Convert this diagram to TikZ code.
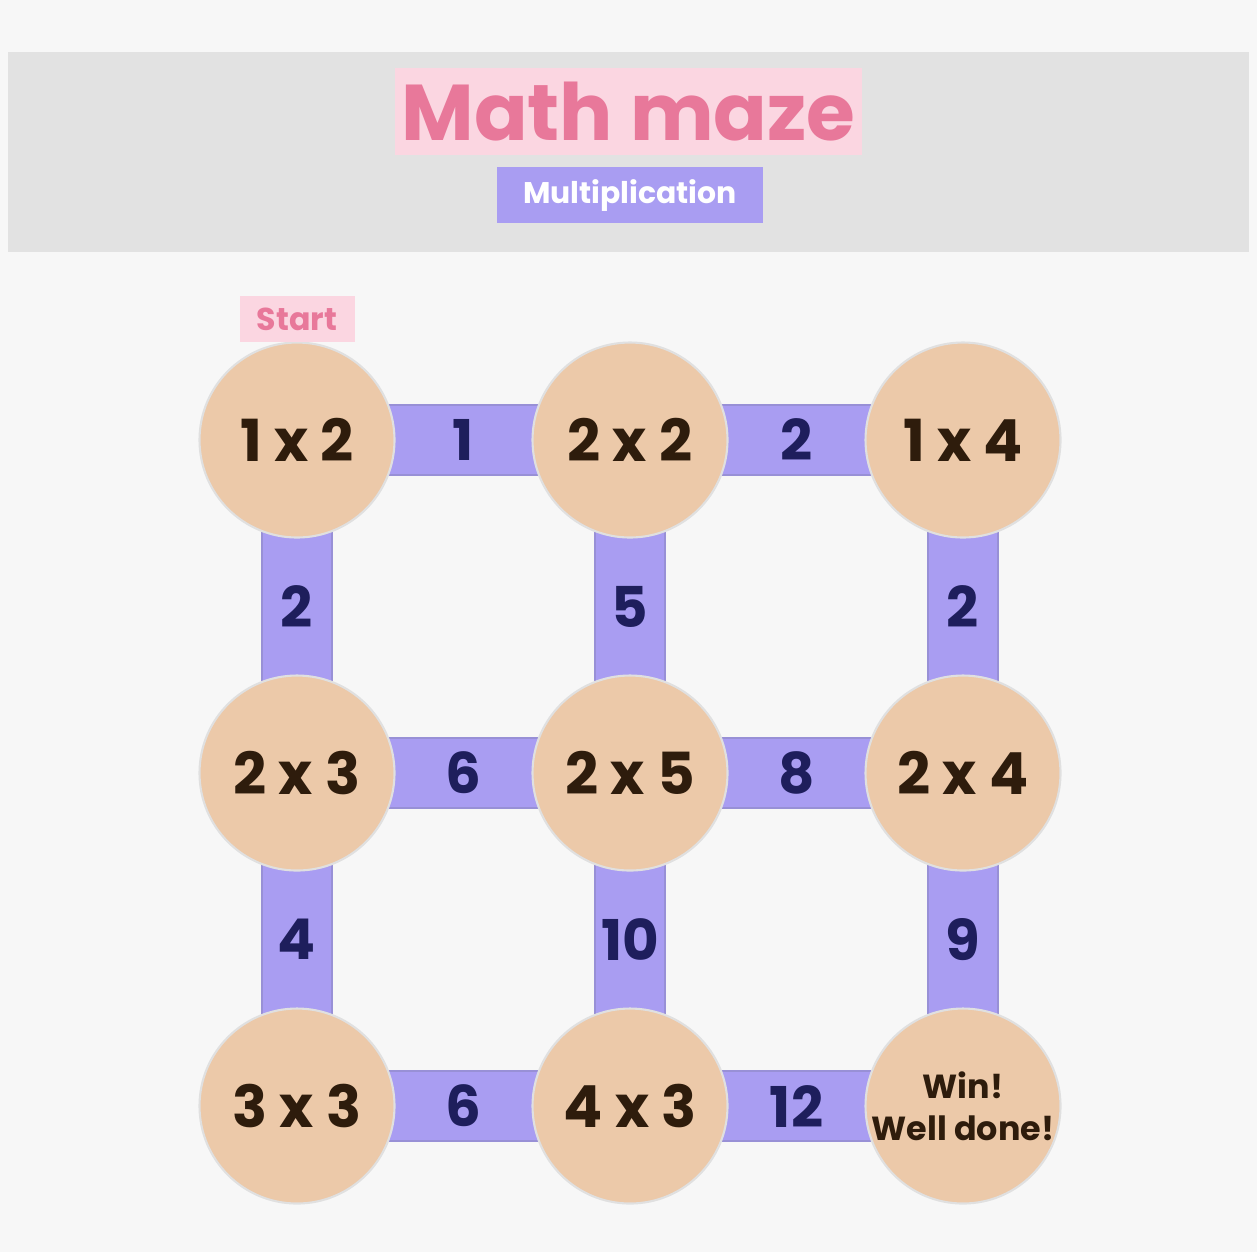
\documentclass[tikz,border=0pt]{standalone}
\usepackage{fontspec}
\setmainfont{Poppins}
\usetikzlibrary{positioning}
\definecolor{pagebg}{HTML}{F7F7F7}
\definecolor{headbg}{HTML}{E2E2E2}
\definecolor{peach}{HTML}{ECC9A9}
\definecolor{lav}{HTML}{A99DF2}
\definecolor{lavedge}{HTML}{9890D6}
\definecolor{titlepink}{HTML}{E8789A}
\definecolor{pinkbox}{HTML}{FBD6E1}
\definecolor{navy}{HTML}{1E1E5C}
\definecolor{brownink}{HTML}{2E1C0C}
\pgfdeclarelayer{bg}
\pgfdeclarelayer{bars}
\pgfsetlayers{bg,bars,main}
\begin{document}
\begin{tikzpicture}[node distance=3.33cm, on grid,
	cell/.style={circle, fill=peach, draw=black!12, line width=0.6pt, minimum size=1.95cm, inner sep=0pt,
		font=\bfseries\fontsize{16.5}{19}\selectfont, text=brownink, align=center},
	bar/.style={draw=lavedge, double=lav, double distance=0.68cm, line width=0.5pt},
	barnum/.style={font=\bfseries\fontsize{16}{19}\selectfont, text=navy}]
	\useasboundingbox (0,0) rectangle (12.57,-12.52);
	\begin{pgfonlayer}{bg}
		\fill[pagebg] (0,0) rectangle (12.57,-12.52);
		\fill[headbg] (0.08,-0.52) rectangle (12.49,-2.52);
	\end{pgfonlayer}
	% header
	\node[fill=pinkbox, text=titlepink, minimum width=4.67cm, minimum height=0.87cm, inner xsep=0.03cm,
		font=\bfseries\fontsize{22.5}{26}\selectfont] (title) at (6.285,-1.115) {Math maze};
	\node[fill=lav, text=white, minimum width=2.66cm, minimum height=0.52cm,
		font=\bfseries\fontsize{8.5}{10}\selectfont] (sub) at (6.30,-1.95) {Multiplication};
	% maze
	\node[cell] (a1) at (2.97,-4.40) {1 x 2};
	\node[cell, right=of a1] (a2) {2 x 2};
	\node[cell, right=of a2] (a3) {1 x 4};
	\node[cell, below=of a1] (b1) {2 x 3};
	\node[cell, right=of b1] (b2) {2 x 5};
	\node[cell, right=of b2] (b3) {2 x 4};
	\node[cell, below=of b1] (c1) {3 x 3};
	\node[cell, right=of c1] (c2) {4 x 3};
	\node[cell, right=of c2, font=\bfseries\fontsize{9.5}{12}\selectfont] (c3) {Win!\\Well done!};
	\node[fill=pinkbox, text=titlepink, minimum width=1.15cm, font=\bfseries\fontsize{9}{11}\selectfont,
		above=1.21cm of a1] (start) {Start};
	\begin{pgfonlayer}{bars}
		\draw[bar] (a1.center) -- (a2.center) node[midway, barnum] {1};
		\draw[bar] (a2.center) -- (a3.center) node[midway, barnum] {2};
		\draw[bar] (b1.center) -- (b2.center) node[midway, barnum] {6};
		\draw[bar] (b2.center) -- (b3.center) node[midway, barnum] {8};
		\draw[bar] (c1.center) -- (c2.center) node[midway, barnum] {6};
		\draw[bar] (c2.center) -- (c3.center) node[midway, barnum] {12};
		\draw[bar] (a1.center) -- (b1.center) node[midway, barnum] {2};
		\draw[bar] (b1.center) -- (c1.center) node[midway, barnum] {4};
		\draw[bar] (a2.center) -- (b2.center) node[midway, barnum] {5};
		\draw[bar] (b2.center) -- (c2.center) node[midway, barnum] {10};
		\draw[bar] (a3.center) -- (b3.center) node[midway, barnum] {2};
		\draw[bar] (b3.center) -- (c3.center) node[midway, barnum] {9};
	\end{pgfonlayer}
\end{tikzpicture}
\end{document}
